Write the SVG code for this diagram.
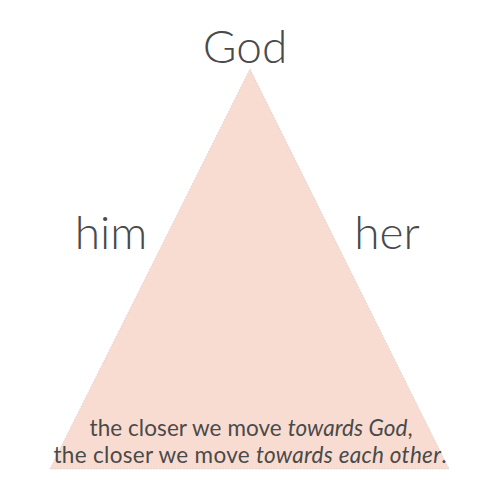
<svg xmlns="http://www.w3.org/2000/svg" width="500" height="500" viewBox="0 0 500 500">
<style>
.lbl{font-family:Lato,"Open Sans","Liberation Sans",sans-serif;fill:#4a4a4a;text-anchor:middle;font-weight:300}
.cap{font-family:Lato,"Open Sans","Liberation Sans",sans-serif;fill:#4a4a4a;text-anchor:middle;font-size:22.5px}
</style>
<rect width="500" height="500" fill="#ffffff"/>
<g id="triangle">
<polygon points="250,69 449,469 50,469" fill="#f9dcd1" stroke="#cfcfcf" stroke-width="0.8" stroke-dasharray="1.5,1.5"/>
</g>
<g id="god"><text class="lbl" x="245" y="63" font-size="46">God</text></g>
<g id="him"><text class="lbl" x="111" y="249" font-size="46">him</text></g>
<g id="her"><text class="lbl" x="387" y="249" font-size="46">her</text></g>
<g id="caption">
<text class="cap" x="251" y="436" textLength="323" lengthAdjust="spacing">the closer we move <tspan font-style="italic">towards God</tspan>,</text>
<text class="cap" x="250" y="463" textLength="393" lengthAdjust="spacing">the closer we move <tspan font-style="italic">towards each other</tspan>.</text>
</g>
</svg>
